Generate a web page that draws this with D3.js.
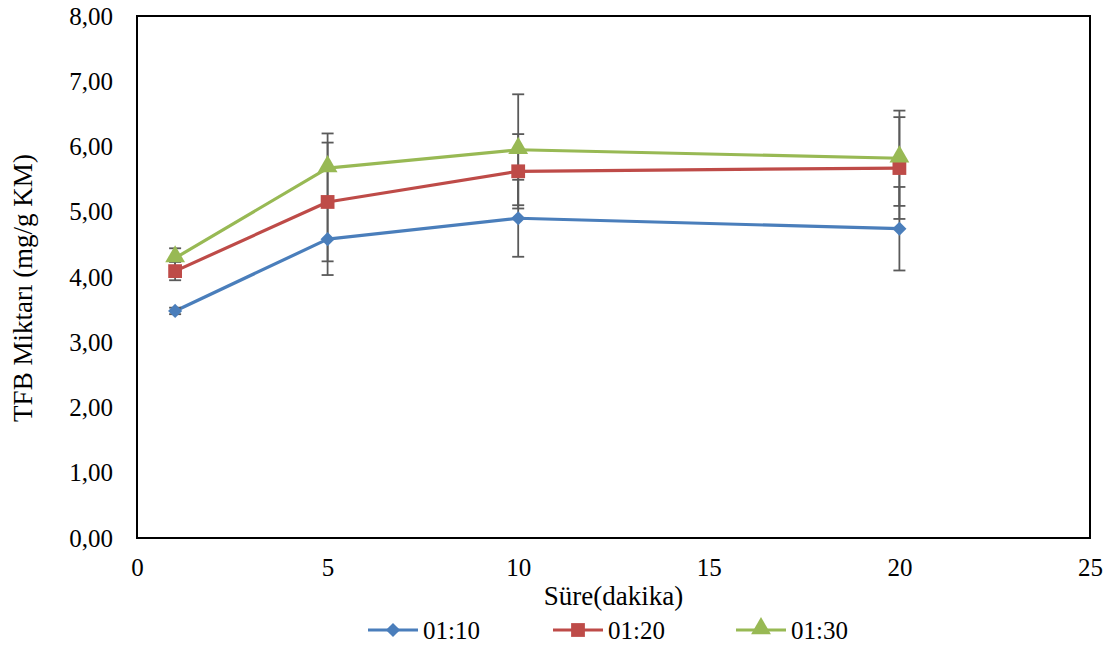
<!DOCTYPE html>
<html><head><meta charset="utf-8">
<script src="https://cdn.jsdelivr.net/npm/d3@7"></script>
<style>
body{margin:0;background:#fff;}
text{font-family:"Liberation Serif","Times New Roman",serif;fill:#000;}
</style></head>
<body><svg id="c" width="1115" height="648"></svg>
<script>
const times = [1, 5, 10, 20];
const seriesNames = ["01:10", "01:20", "01:30"];
const values1 = [3.48, 4.58, 4.90, 4.74];
const values2 = [4.09, 5.15, 5.62, 5.67];
const values3 = [4.29, 5.67, 5.95, 5.82];
const errors1 = [0.05, 0.55, 0.59, 0.64];
const errors2 = [0.14, 0.91, 0.57, 0.78];
const errors3 = [0.15, 0.53, 0.85, 0.73];
const xTicks = [0, 5, 10, 15, 20, 25];
const yTicks = [0, 1, 2, 3, 4, 5, 6, 7, 8];
const xTitle = "Süre(dakika)";
const yTitle = "TFB Miktarı (mg/g KM)";

const colors = ["#4A7EBB", "#BE4B48", "#98B954"];
const symbols = [d3.symbolSquare, d3.symbolSquare, d3.symbolTriangle];
const symSizes = [100, 190, 170];
const symRot = [45, 0, 0];
const symDy = [0, 0, -1.5];

const series = [
  {name: seriesNames[0], v: values1, e: errors1},
  {name: seriesNames[1], v: values2, e: errors2},
  {name: seriesNames[2], v: values3, e: errors3}
];

const FF = '"Liberation Serif","Times New Roman",serif';
const svg = d3.select("#c");
const L = 137, R = 1090, T = 16, B = 538;
const x = d3.scaleLinear().domain([0, 25]).range([L, R]);
const y = d3.scaleLinear().domain([0, 8]).range([B, T]);
const fmt = d => d.toFixed(2).replace(".", ",");

// axes
const ya = svg.append("g").attr("transform", `translate(${L},0)`)
  .call(d3.axisLeft(y).tickValues(yTicks).tickSize(0).tickPadding(24).tickFormat(fmt));
ya.attr("font-family", null).attr("font-size", null);
ya.select(".domain").remove();
ya.selectAll("text").style("font-size", "25px").style("font-family", FF).attr("fill", "#000");

const xa = svg.append("g").attr("transform", `translate(0,${B})`)
  .call(d3.axisBottom(x).tickValues(xTicks).tickSize(0).tickPadding(20).tickFormat(d3.format("d")));
xa.attr("font-family", null).attr("font-size", null);
xa.select(".domain").remove();
xa.selectAll("text").style("font-size", "25px").style("font-family", FF).attr("fill", "#000");

// frame
svg.append("rect").attr("x", L).attr("y", T).attr("width", R - L).attr("height", B - T)
  .attr("fill", "none").attr("stroke", "#000").attr("stroke-width", 2);

// lines
const line = d3.line().x((d, i) => x(times[i])).y(d => y(d));
series.forEach((s, k) => {
  svg.append("path").attr("d", line(s.v)).attr("fill", "none")
    .attr("stroke", colors[k]).attr("stroke-width", 3.2).attr("stroke-linejoin", "round");
});

// error bars
const eg = svg.append("g").attr("stroke", "#5a5a5a").attr("stroke-width", 1.8);
series.forEach(s => {
  s.v.forEach((v, i) => {
    const cx = x(times[i]);
    eg.append("line").attr("x1", cx).attr("x2", cx).attr("y1", y(v - s.e[i])).attr("y2", y(v + s.e[i]));
    [v - s.e[i], v + s.e[i]].forEach(yy => {
      eg.append("line").attr("x1", cx - 6).attr("x2", cx + 6).attr("y1", y(yy)).attr("y2", y(yy));
    });
  });
});

// markers
series.forEach((s, k) => {
  svg.append("g").selectAll("path").data(s.v).join("path")
    .attr("transform", (d, i) => `translate(${x(times[i])},${y(d) + symDy[k]}) rotate(${symRot[k]})`)
    .attr("d", d3.symbol().type(symbols[k]).size(symSizes[k]))
    .attr("fill", colors[k]);
});

// titles
svg.append("text").attr("x", (L + R) / 2).attr("y", 605).attr("text-anchor", "middle")
  .style("font-size", "27px").style("font-family", FF).text(xTitle);
svg.append("text").attr("transform", "translate(32,288) rotate(-90)").attr("text-anchor", "middle")
  .style("font-size", "27px").style("font-family", FF).text(yTitle);

// legend
const legX = [368, 553, 736];
series.forEach((s, k) => {
  const g = svg.append("g").attr("transform", `translate(${legX[k]},630)`);
  g.append("line").attr("x1", 0).attr("x2", 50).attr("y1", 0).attr("y2", 0)
    .attr("stroke", colors[k]).attr("stroke-width", 3.2);
  g.append("path").attr("transform", `translate(25,${symDy[k]}) rotate(${symRot[k]})`)
    .attr("d", d3.symbol().type(symbols[k]).size(symSizes[k])).attr("fill", colors[k]);
  g.append("text").attr("x", 55).attr("y", 0).attr("dy", "0.35em")
    .style("font-size", "25px").style("font-family", FF).text(s.name);
});
</script></body></html>
